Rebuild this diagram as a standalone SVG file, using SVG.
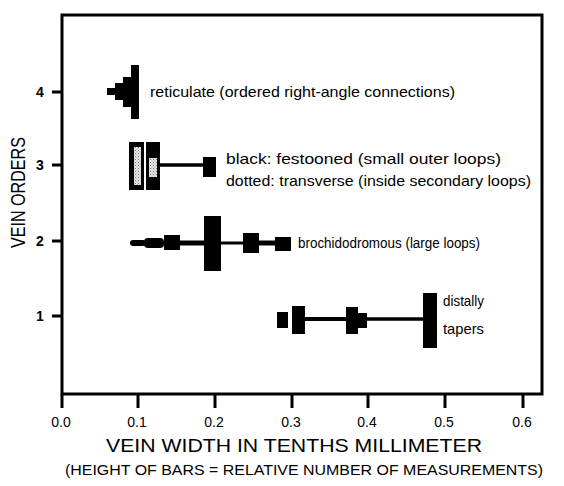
<svg xmlns="http://www.w3.org/2000/svg" width="564" height="486" viewBox="0 0 564 486">
<defs>
<pattern id="dots" width="3" height="3" patternUnits="userSpaceOnUse">
<rect width="3" height="3" fill="#e8e8e8"/>
<rect x="0" y="0" width="1" height="1" fill="#777"/>
<rect x="1.5" y="1.5" width="1" height="1" fill="#999"/>
</pattern>
</defs>
<style>
.ax{stroke:#000;stroke-width:3;fill:none}
.tk{stroke:#000;stroke-width:3}
.bar{fill:#000}
.ln{stroke:#000;fill:none}
.dot{fill:url(#dots)}
.t{font-family:"Liberation Sans",Arial,sans-serif;font-size:15px;fill:#000}
.n{font-family:"Liberation Sans",Arial,sans-serif;font-size:14px;fill:#000;text-anchor:middle}
.big{font-family:"Liberation Sans",Arial,sans-serif;font-size:18.5px;fill:#000}
</style>
<rect width="564" height="486" fill="#fff"/>
<g id="axes">
<rect class="ax" x="62" y="15" width="480" height="379"/>
<line class="tk" x1="62" y1="394" x2="62" y2="408"/>
<line class="tk" x1="138" y1="394" x2="138" y2="408"/>
<line class="tk" x1="215" y1="394" x2="215" y2="408"/>
<line class="tk" x1="292" y1="394" x2="292" y2="408"/>
<line class="tk" x1="368" y1="394" x2="368" y2="408"/>
<line class="tk" x1="445" y1="394" x2="445" y2="408"/>
<line class="tk" x1="523" y1="394" x2="523" y2="408"/>
<line class="tk" x1="52" y1="92" x2="62" y2="92"/>
<line class="tk" x1="52" y1="165" x2="62" y2="165"/>
<line class="tk" x1="52" y1="241" x2="62" y2="241"/>
<line class="tk" x1="52" y1="316" x2="62" y2="316"/>
<text class="n" x="61" y="427">0.0</text>
<text class="n" x="137" y="427">0.1</text>
<text class="n" x="214" y="427">0.2</text>
<text class="n" x="291" y="427">0.3</text>
<text class="n" x="367" y="427">0.4</text>
<text class="n" x="444" y="427">0.5</text>
<text class="n" x="522" y="427">0.6</text>
<text class="n" x="40" y="97" font-weight="bold">4</text>
<text class="n" x="40" y="170" font-weight="bold">3</text>
<text class="n" x="40" y="246" font-weight="bold">2</text>
<text class="n" x="40" y="321" font-weight="bold">1</text>
<text class="big" x="106" y="452" textLength="376" lengthAdjust="spacingAndGlyphs">VEIN WIDTH IN TENTHS MILLIMETER</text>
<text class="big" x="65" y="475" textLength="478" lengthAdjust="spacingAndGlyphs" style="font-size:15.5px">(HEIGHT OF BARS = RELATIVE NUMBER OF MEASUREMENTS)</text>
<text class="big" transform="translate(25,248) rotate(-90)" x="0" y="0" textLength="111" lengthAdjust="spacingAndGlyphs" style="font-size:21px">VEIN ORDERS</text>
</g>
<g id="connectors">
<line class="ln" x1="160" y1="165" x2="204" y2="165" stroke-width="3.5"/>
<line class="ln" x1="180" y1="243" x2="204" y2="243" stroke-width="5"/>
<line class="ln" x1="221" y1="243" x2="243" y2="243" stroke-width="3"/>
<line class="ln" x1="259" y1="243" x2="275" y2="243" stroke-width="5"/>
<line class="ln" x1="305" y1="319" x2="346" y2="319" stroke-width="4"/>
<line class="ln" x1="367" y1="319" x2="423" y2="319" stroke-width="3.5"/>
</g>
<g id="order4">
<rect class="bar" x="131" y="65" width="8" height="54"/>
<rect class="bar" x="123" y="77" width="9" height="30"/>
<rect class="bar" x="115" y="83" width="9" height="17"/>
<rect class="bar" x="107" y="88" width="9" height="7"/>
<text class="t" x="150" y="97" textLength="305" lengthAdjust="spacingAndGlyphs">reticulate (ordered right-angle connections)</text>
</g>
<g id="order3">
<rect class="bar" x="129" y="142" width="15" height="48"/>
<rect class="dot" x="134" y="147" width="7" height="38"/>
<rect class="bar" x="146" y="142" width="14" height="48"/>
<rect class="dot" x="149" y="158" width="8" height="19"/>
<rect class="bar" x="203" y="157" width="13" height="20"/>
<text class="t" x="226" y="164" textLength="275" lengthAdjust="spacingAndGlyphs">black: festooned (small outer loops)</text>
<text class="t" x="226" y="186" textLength="305" lengthAdjust="spacingAndGlyphs">dotted: transverse (inside secondary loops)</text>
</g>
<g id="order2">
<rect class="bar" x="130" y="240" width="16" height="6" rx="3"/>
<rect class="bar" x="144" y="238" width="20" height="10" rx="4"/>
<rect class="bar" x="164" y="235" width="16" height="15"/>
<rect class="bar" x="204" y="216" width="17" height="55"/>
<rect class="bar" x="243" y="233" width="16" height="20"/>
<rect class="bar" x="275" y="237" width="16" height="14"/>
<text class="t" x="298" y="248" textLength="182" lengthAdjust="spacingAndGlyphs" style="font-size:14px">brochidodromous (large loops)</text>
</g>
<g id="order1">
<rect class="bar" x="277" y="312" width="11" height="16"/>
<rect class="bar" x="292" y="306" width="13" height="28"/>
<rect class="bar" x="346" y="307" width="12" height="27"/>
<rect class="bar" x="357" y="313" width="10" height="15"/>
<rect class="bar" x="423" y="293" width="14" height="55"/>
<text class="t" x="443" y="306" textLength="41" lengthAdjust="spacingAndGlyphs">distally</text>
<text class="t" x="443" y="334" textLength="41" lengthAdjust="spacingAndGlyphs">tapers</text>
</g>
</svg>
